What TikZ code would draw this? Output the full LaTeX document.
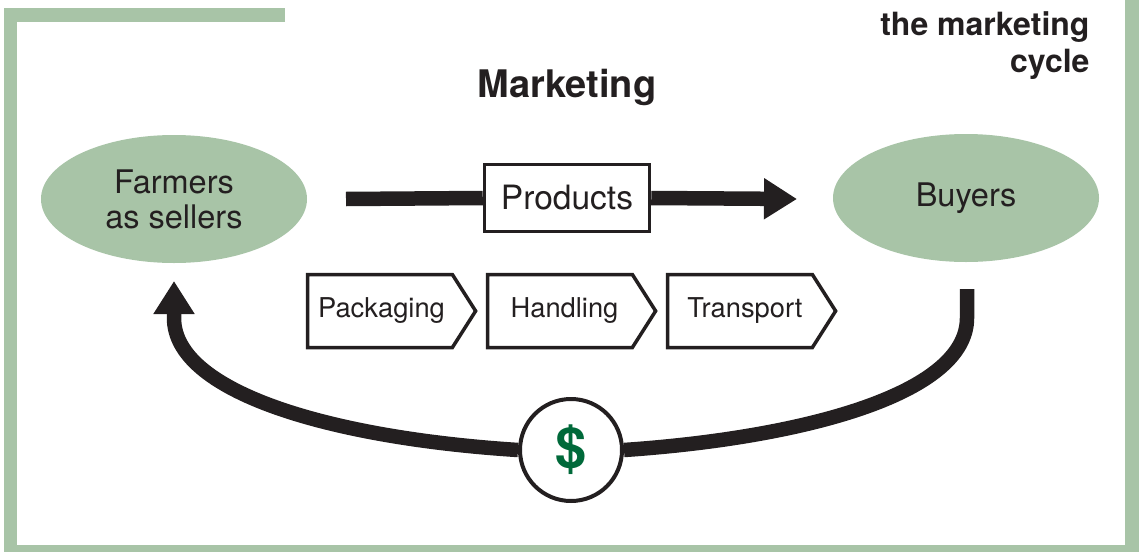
\documentclass[tikz,border=0pt]{standalone}
\usepackage{fontspec}
\setmainfont{TeX Gyre Heros}
\usetikzlibrary{arrows.meta,shapes.symbols,shapes.geometric}
\definecolor{sage}{HTML}{A8C4A7}
\definecolor{ink}{HTML}{231F20}
\definecolor{money}{HTML}{00693A}
\tikzset{
  x=1pt, y=-1pt,
  frame/.style={draw=sage, line width=13.5pt, line join=miter},
  party/.style={ellipse, fill=sage, minimum width=266pt, minimum height=128pt, inner sep=0pt, text=ink, align=center, font=\fontsize{32.5}{35}\selectfont},
  thick line/.style={draw=ink, line width=14.5pt},
  box/.style={draw=ink, line width=3.5pt, fill=white, text=ink, minimum width=165pt, minimum height=67pt, inner sep=0pt, font=\fontsize{33.5}{36}\selectfont},
  chev/.style={signal, signal to=east, signal pointer angle=115, draw=ink, line width=3.5pt, text=ink, minimum width=168pt, minimum height=73pt, inner sep=0pt, font=\fontsize{27.3}{30}\selectfont},
  bigtip/.style={-{Triangle[length=33pt,width=39pt]}},
}
\begin{document}
\begin{tikzpicture}
\useasboundingbox (0,0) rectangle (1139,551);
% frame
\draw[frame] (285,15) -- (10.5,15) -- (10.5,551.5) -- (1132,551.5) -- (1132,-10);
% title and note
\node[font=\fontsize{38}{42}\selectfont\bfseries, text=ink] (title) at (567,87) {Marketing};
\node[font=\fontsize{32}{37}\selectfont\bfseries, text=ink, anchor=base east] (note1) at (1093,36) {the marketing};
\node[font=\fontsize{32}{37}\selectfont\bfseries, text=ink, anchor=base east] (note2) at (1093,72) {cycle};
% parties
\node[party] (farmers) at (174,199) {Farmers\\as sellers};
\node[party] (buyers) at (966,198) {Buyers};
% products flow
\coordinate (pstart) at (346,199);
\coordinate (pend) at (797,199);
\node[box] (products) at (567,198) {Products};
\draw[thick line] (pstart) -- (products.west);
\draw[thick line, bigtip] (products.east) -- (pend);
% steps
\node[chev] (pack) at (380,311) {\hspace*{3pt}Packaging};
\node[chev] (handl) at (560,311) {\hspace*{9pt}Handling};
\node[chev] (trans) at (740,311) {\hspace*{10pt}Transport};
% money cycle
\coordinate (rstart) at (967,289);
\coordinate (fend) at (174,281);
\node[circle, draw=ink, line width=4pt, fill=white, minimum size=102pt, inner sep=0pt, text=money, font=\fontsize{56}{60}\selectfont\bfseries] (money) at (571,450) {\$};
\draw[thick line] (rstart) -- (967,318) .. controls (967,395) and (800,438) .. (money.east);
\draw[thick line, bigtip] (money.west) .. controls (330,438) and (174,392) .. (174,318) -- (fend);
\end{tikzpicture}
\end{document}
